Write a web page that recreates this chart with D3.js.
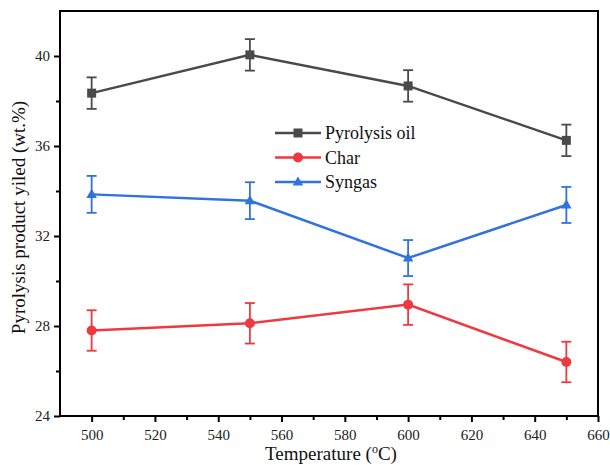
<!DOCTYPE html>
<html>
<head>
<meta charset="utf-8">
<script src="https://cdn.jsdelivr.net/npm/d3@7"></script>
<style>
  body { margin: 0; background: #fff; }
  text { font-family: "Liberation Serif", "Times New Roman", serif; }
</style>
</head>
<body>
<svg id="chart" width="610" height="465"></svg>
<script>
// temperatures (x) and yields with error bars
const temps = [500, 550, 600, 650];
const oilVals = [38.35, 40.05, 38.67, 36.25];
const oilErr = [0.7, 0.7, 0.7, 0.7];
const charVals = [27.8, 28.12, 28.95, 26.4];
const charErr = [0.9, 0.9, 0.9, 0.9];
const syngasVals = [33.85, 33.57, 31.02, 33.38];
const syngasErr = [0.82, 0.82, 0.8, 0.8];
const xTicks = [500, 520, 540, 560, 580, 600, 620, 640, 660];
const yTicks = [24, 28, 32, 36, 40];

const series = [
  { name: 'Pyrolysis oil', vals: oilVals, err: oilErr, color: '#4a4a4a', shape: 'square' },
  { name: 'Char', vals: charVals, err: charErr, color: '#f0393f', shape: 'circle' },
  { name: 'Syngas', vals: syngasVals, err: syngasErr, color: '#2f72e0', shape: 'triangle' }
];

const svg = d3.select('#chart');
const mLeft = 60, mRight = 598, mTop = 11, mBottom = 416;

const x = d3.scaleLinear().domain([490, 660]).range([mLeft, mRight]);
const y = d3.scaleLinear().domain([24, 42]).range([mBottom, mTop]);

// frame
svg.append('rect')
  .attr('x', mLeft).attr('y', mTop)
  .attr('width', mRight - mLeft).attr('height', mBottom - mTop)
  .attr('fill', 'none').attr('stroke', '#000').attr('stroke-width', 2);

// x axis
const xAxis = svg.append('g')
  .attr('transform', 'translate(0,' + mBottom + ')')
  .call(d3.axisBottom(x).tickValues(xTicks).tickSize(6).tickPadding(7).tickFormat(d3.format('d')));
xAxis.select('.domain').remove();
xAxis.selectAll('line').attr('stroke-width', 2);
xAxis.selectAll('text').style('font-size', '15px').attr('fill', '#222');
svg.append('g')
  .attr('transform', 'translate(0,' + mBottom + ')')
  .call(d3.axisBottom(x).tickValues(d3.range(510, 660, 20)).tickSize(4).tickFormat(''))
  .call(g => g.select('.domain').remove())
  .selectAll('line').attr('stroke-width', 2);

// y axis
const yAxis = svg.append('g')
  .attr('transform', 'translate(' + mLeft + ',0)')
  .call(d3.axisLeft(y).tickValues(yTicks).tickSize(6).tickPadding(4));
yAxis.select('.domain').remove();
yAxis.selectAll('line').attr('stroke-width', 2);
yAxis.selectAll('text').style('font-size', '15px').attr('fill', '#222');
svg.append('g')
  .attr('transform', 'translate(' + mLeft + ',0)')
  .call(d3.axisLeft(y).tickValues([26, 30, 34, 38]).tickSize(4).tickFormat(''))
  .call(g => g.select('.domain').remove())
  .selectAll('line').attr('stroke-width', 2);

// axis titles
const xt = svg.append('text')
  .attr('x', (mLeft + mRight) / 2 + 2).attr('y', 460)
  .attr('text-anchor', 'middle').style('font-size', '19px').attr('fill', '#111')
  .text('Temperature (');
xt.append('tspan').attr('baseline-shift', 'super').style('font-size', '12px').text('o');
xt.append('tspan').text('C)');

svg.append('text')
  .attr('transform', 'translate(25,' + ((mTop + mBottom) / 2 + 4) + ') rotate(-90)')
  .attr('text-anchor', 'middle').style('font-size', '19px').attr('fill', '#111')
  .text('Pyrolysis product yiled (wt.%)');

function drawMarker(g, shape, color, cx, cy) {
  if (shape === 'square') {
    g.append('rect').attr('x', cx - 4.5).attr('y', cy - 4.5).attr('width', 9).attr('height', 9).attr('fill', color);
  } else if (shape === 'circle') {
    g.append('circle').attr('cx', cx).attr('cy', cy).attr('r', 5).attr('fill', color);
  } else {
    g.append('path').attr('d', d3.symbol().type(d3.symbolTriangle).size(48)()).attr('transform', 'translate(' + cx + ',' + (cy + 0.5) + ')').attr('fill', color);
  }
}

const line = d3.line().x(d => x(d[0])).y(d => y(d[1]));

series.forEach(s => {
  const g = svg.append('g');
  const pts = temps.map((t, i) => [t, s.vals[i], s.err[i]]);
  g.append('path').datum(pts).attr('d', line)
    .attr('fill', 'none').attr('stroke', s.color).attr('stroke-width', 2.5);
  pts.forEach(p => {
    const cx = x(p[0]);
    g.append('line').attr('x1', cx).attr('x2', cx).attr('y1', y(p[1] + p[2])).attr('y2', y(p[1] - p[2]))
      .attr('stroke', s.color).attr('stroke-width', 1.8);
    [p[1] + p[2], p[1] - p[2]].forEach(v => {
      g.append('line').attr('x1', cx - 5).attr('x2', cx + 5).attr('y1', y(v)).attr('y2', y(v))
        .attr('stroke', s.color).attr('stroke-width', 1.8);
    });
    drawMarker(g, s.shape, s.color, cx, y(p[1]));
  });
});

// legend
const legend = svg.append('g').attr('transform', 'translate(275,133)');
series.forEach((s, i) => {
  const ly = i * 24.5;
  legend.append('line').attr('x1', 0).attr('x2', 46).attr('y1', ly).attr('y2', ly)
    .attr('stroke', s.color).attr('stroke-width', 2.5);
  drawMarker(legend, s.shape, s.color, 23, ly);
  legend.append('text').attr('x', 50).attr('y', ly + 6)
    .style('font-size', '18px').attr('fill', '#111').text(s.name);
});
</script>
</body>
</html>
